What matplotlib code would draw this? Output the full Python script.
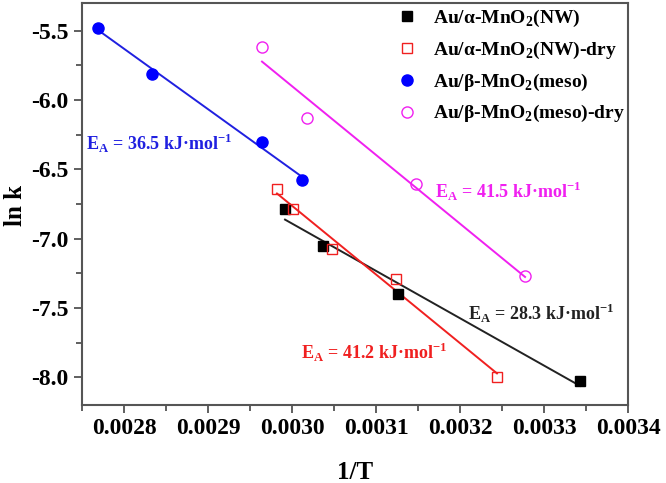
import numpy as np
import matplotlib
matplotlib.use('Agg')
import matplotlib.pyplot as plt
from matplotlib.ticker import MultipleLocator

plt.rcParams['font.family'] = 'Liberation Serif'
plt.rcParams['font.weight'] = 'bold'
plt.rcParams['axes.labelweight'] = 'bold'
plt.rcParams['mathtext.fontset'] = 'custom'
plt.rcParams['mathtext.rm'] = 'Liberation Serif:bold'

# Au/alpha-MnO2(NW)
x_nw = [0.0029917, 0.0030369, 0.0031262, 0.0033429]
y_nw = [-6.786, -7.052, -7.397, -8.029]
# Au/alpha-MnO2(NW)-dry
x_nw_dry = [0.0029821, 0.0030010, 0.0030476, 0.0031240, 0.0032440]
y_nw_dry = [-6.642, -6.786, -7.073, -7.289, -8.000]
# Au/beta-MnO2(meso)
x_meso = [0.0027690, 0.0028333, 0.0029643, 0.0030119]
y_meso = [-5.478, -5.809, -6.305, -6.578]
# Au/beta-MnO2(meso)-dry
x_meso_dry = [0.0029643, 0.0030179, 0.0031476, 0.0032774]
y_meso_dry = [-5.615, -6.132, -6.606, -7.267]

labels = ['Au/\u03b1-MnO$_\\mathregular{2}$(NW)',
          'Au/\u03b1-MnO$_\\mathregular{2}$(NW)-dry',
          'Au/\u03b2-MnO$_\\mathregular{2}$(meso)',
          'Au/\u03b2-MnO$_\\mathregular{2}$(meso)-dry']
ea_labels = ['28.3', '41.2', '36.5', '41.5']

fig = plt.figure(figsize=(6.66, 4.83), dpi=100)
ax = fig.add_axes([0.1231, 0.1615, 0.8199, 0.8323])

def fitline(x, y, color):
    p = np.polyfit(x, y, 1)
    xx = np.array([min(x), max(x)])
    ax.plot(xx, np.polyval(p, xx), color=color, lw=1.4, zorder=1)

fitline(x_nw, y_nw, '#222222')
fitline(x_nw_dry, y_nw_dry, '#f02020')
fitline(x_meso, y_meso, '#2020e0')
fitline(x_meso_dry, y_meso_dry, '#f020f0')

ax.plot(x_nw, y_nw, 's', color='black', ms=7, ls='none', label=labels[0], zorder=3)
ax.plot(x_nw_dry, y_nw_dry, 's', mfc='none', mec='#f02020', mew=1.0, ms=7,
        ls='none', label=labels[1], zorder=3)
ax.plot(x_meso, y_meso, 'o', color='#0000ff', ms=8, ls='none', label=labels[2], zorder=3)
ax.plot(x_meso_dry, y_meso_dry, 'o', mfc='none', mec='#f020f0', mew=1.0, ms=8,
        ls='none', label=labels[3], zorder=3)

def ea_text(x, y, val, color):
    ax.text(x, y, 'E$_\\mathregular{A}$ = ' + val + ' kJ\u00b7mol$^\\mathregular{-1}$',
            color=color, fontsize=13, ha='left', va='center')

ea_text(0.003209, -7.54, ea_labels[0], '#222222')
ea_text(0.0030107, -7.82, ea_labels[1], '#f02020')
ea_text(0.002755, -6.31, ea_labels[2], '#2020e0')
ea_text(0.0031706, -6.66, ea_labels[3], '#f020f0')

ax.set_xlim(0.00275, 0.0034)
ax.set_ylim(-8.2, -5.3)
ax.xaxis.set_major_locator(MultipleLocator(0.0001))
ax.xaxis.set_minor_locator(MultipleLocator(0.00005))
ax.yaxis.set_major_locator(MultipleLocator(0.5))
ax.yaxis.set_minor_locator(MultipleLocator(0.25))
ax.xaxis.set_major_formatter(matplotlib.ticker.FormatStrFormatter('%.4f'))
ax.yaxis.set_major_formatter(matplotlib.ticker.FormatStrFormatter('%.1f'))
ax.tick_params(which='both', direction='out', labelsize=17, width=1.2, color='#444444')
ax.tick_params(which='major', length=6)
ax.tick_params(which='minor', length=4)
for s in ax.spines.values():
    s.set_linewidth(1.5)
    s.set_color('#555555')

ax.set_xlabel('1/T', fontsize=18)
ax.set_ylabel('ln k', fontsize=18)
ax.xaxis.set_label_coords(0.5, -0.14)
ax.yaxis.set_label_coords(-0.1, 0.497)

ax.legend(loc='upper right', frameon=False, fontsize=14, handletextpad=0.6,
          labelspacing=0.55, borderaxespad=0.1, handlelength=1.5,
          bbox_to_anchor=(1.012, 1.012))

fig.savefig('out.png', dpi=100)
